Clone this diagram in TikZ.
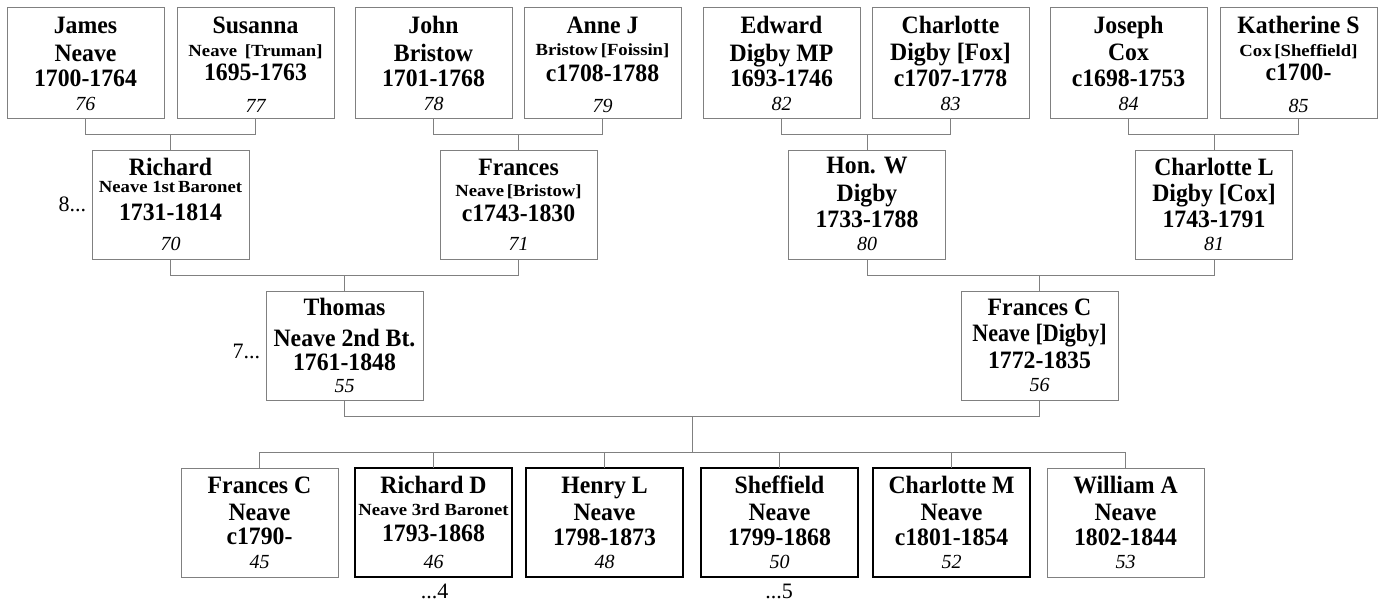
\documentclass[tikz,border=0pt]{standalone}
\usepackage{fontspec}
\usepackage{graphicx}
\usetikzlibrary{calc}
\setmainfont{Liberation Serif}
\newfontfamily\bigfam[FakeStretch=0.95]{Liberation Serif}
\newfontfamily\smallfam[FakeStretch=1.1]{Liberation Serif}
\definecolor{linegrey}{RGB}{128,128,128}
\newcommand\tB[1]{{\bigfam\bfseries\fontsize{25}{25}\selectfont #1}}
\newcommand\tS[1]{{\smallfam\bfseries\fontsize{17}{17}\selectfont #1}}
\newcommand\tN[1]{{\itshape\fontsize{20}{20}\selectfont #1}}
\newdimen\curb
\newdimen\bw \bw=157pt
\newcommand\pl[2]{\vskip\dimexpr#1pt-\curb\relax\curb=#1pt\relax\hbox to\bw{\hss\smash{#2}\hss}}
\newcommand\pbox[2][109]{\vbox to #1pt{\offinterlineskip\curb=0pt\relax #2\vfil}}
\tikzset{
  person/.style={draw=linegrey, line width=1pt, fill=white, inner sep=0pt, outer sep=0pt, anchor=north west},
  thickp/.style={person, draw=black, line width=2pt},
  conn/.style={draw=linegrey, line width=1pt},
  sidelabel/.style={inner sep=0pt, outer sep=0pt, font=\fontsize{22}{22}\selectfont}
}
\begin{document}
\begin{tikzpicture}[x=1pt,y=-1pt]
\fill[white] (0,0) rectangle (1382,602);
\useasboundingbox (0,0) rectangle (1382,602);

% ---------- top row ----------
\node[person] (james) at (7,8) {\pbox[110]{\pl{25.3}{\tB{James}}\pl{53}{\tB{Neave}}\pl{78.8}{\tB{1700-1764}}\pl{102.8}{\tN{76}}}};
\node[person] (susanna) at (177,8) {\pbox[110]{\pl{25.3}{\tB{Susanna}}\pl{48.7}{\tS{Neave\hspace{0.45em}[Truman]}}\pl{72.5}{\tB{1695-1763}}\pl{104.5}{\tN{77}}}};
\node[person] (john) at (355,8) {\pbox[110]{\pl{25.3}{\tB{John}}\pl{53}{\tB{Bristow}}\pl{78.8}{\tB{1701-1768}}\pl{102.8}{\tN{78}}}};
\node[person] (anne) at (524,8) {\pbox[110]{\pl{25.3}{\tB{Anne J}}\pl{47.5}{\tS{Bristow\,[Foissin]}}\pl{73.5}{\tB{c1708-1788}}\pl{104.5}{\tN{79}}}};
\node[person] (edward) at (703,8) {\pbox[110]{\pl{25.3}{\tB{Edward}}\pl{53}{\tB{Digby MP}}\pl{78.8}{\tB{1693-1746}}\pl{102.5}{\tN{82}}}};
\node[person] (charlotte) at (872,8) {\pbox[110]{\pl{25.3}{\tB{Charlotte}}\pl{52.5}{\tB{Digby [Fox]}}\pl{78}{\tB{c1707-1778}}\pl{102.5}{\tN{83}}}};
\node[person] (joseph) at (1050,8) {\pbox[110]{\pl{25.3}{\tB{Joseph}}\pl{52.5}{\tB{Cox}}\pl{78.8}{\tB{c1698-1753}}\pl{102.5}{\tN{84}}}};
\node[person] (katherine) at (1220,8) {\pbox[110]{\pl{25.3}{\tB{Katherine S}}\pl{48}{\tS{Cox\,[Sheffield]}}\pl{72.5}{\tB{c1700-}}\pl{104.5}{\tN{85}}}};

% ---------- second row ----------
\node[person] (richard) at (92,150) {\pbox{\pl{25}{\tB{Richard}}\pl{42.7}{\tS{Neave 1st\,Baronet}}\pl{70.7}{\tB{1731-1814}}\pl{100.7}{\tN{70}}}};
\node[person] (frances) at (440,150) {\pbox{\pl{25}{\tB{Frances}}\pl{46.7}{\tS{Neave\,[Bristow]}}\pl{71.7}{\tB{c1743-1830}}\pl{100.3}{\tN{71}}}};
\node[person] (honw) at (788.5,150) {\pbox{\pl{23.5}{\tB{Hon. W}}\pl{51}{\tB{Digby}}\pl{77.7}{\tB{1733-1788}}\pl{100.7}{\tN{80}}}};
\node[person] (charlottel) at (1135.5,150) {\pbox{\pl{25}{\tB{Charlotte L}}\pl{51.7}{\tB{Digby [Cox]}}\pl{77.3}{\tB{1743-1791}}\pl{100.3}{\tN{81}}}};

% ---------- third row ----------
\node[person] (thomas) at (266,291.7) {\pbox{\pl{23.3}{\tB{Thomas}}\pl{54.6}{\tB{Neave 2nd Bt.}}\pl{78.3}{\tB{1761-1848}}\pl{101}{\tN{55}}}};
\node[person] (francesc) at (961,291.7) {\pbox{\pl{23.3}{\tB{Frances C}}\pl{50}{\scalebox{0.93}[1]{\tB{Neave [Digby]}}}\pl{76.7}{\tB{1772-1835}}\pl{100}{\tN{56}}}};

% ---------- children ----------
\node[person] (fc) at (181,468) {\pbox{\pl{25}{\tB{Frances C}}\pl{52}{\tB{Neave}}\pl{76.3}{\tB{c1790-}}\pl{100}{\tN{45}}}};
\node[thickp] (rd) at (355,468) {\pbox{\pl{25}{\tB{Richard D}}\pl{47.3}{\tS{Neave 3rd Baronet}}\pl{73}{\tB{1793-1868}}\pl{100}{\tN{46}}}};
\node[thickp] (hl) at (526,468) {\pbox{\pl{25}{\tB{Henry L}}\pl{52}{\tB{Neave}}\pl{77}{\tB{1798-1873}}\pl{100}{\tN{48}}}};
\node[thickp] (sh) at (701,468) {\pbox{\pl{25}{\tB{Sheffield}}\pl{52}{\tB{Neave}}\pl{77}{\tB{1799-1868}}\pl{100}{\tN{50}}}};
\node[thickp] (cm) at (873,468) {\pbox{\pl{25}{\tB{Charlotte M}}\pl{52}{\tB{Neave}}\pl{77}{\tB{c1801-1854}}\pl{100}{\tN{52}}}};
\node[person] (wa) at (1047,468) {\pbox{\pl{25}{\tB{William A}}\pl{52}{\tB{Neave}}\pl{77}{\tB{1802-1844}}\pl{100}{\tN{53}}}};

% ---------- connectors ----------
\draw[conn] (james.south) -- ++(0,16) -| (susanna.south);
\draw[conn] (richard.north) -- ++(0,-16);
\draw[conn] (john.south) -- ++(0,16) -| (anne.south);
\draw[conn] (frances.north) -- ++(0,-16);
\draw[conn] (edward.south) -- ++(0,16) -| (charlotte.south);
\draw[conn] (honw.north) -- ++(0,-16);
\draw[conn] (joseph.south) -- ++(0,16) -| (katherine.south);
\draw[conn] (charlottel.north) -- ++(0,-16);

\draw[conn] (richard.south) -- ++(0,16) -| (frances.south);
\draw[conn] (thomas.north) -- ++(0,-16.7);
\draw[conn] (honw.south) -- ++(0,16) -| (charlottel.south);
\draw[conn] (francesc.north) -- ++(0,-16.7);

\draw[conn] (thomas.south) -- ++(0,15.3) -| (francesc.south);
\coordinate (pm) at ($(thomas.south)!0.5!(francesc.south)$);
\draw[conn] (pm) ++(0,15.3) -- ++(0,36);
\draw[conn] (fc.north) -- ++(0,-16) -| (wa.north);
\draw[conn] (rd.north) -- ++(0,-16);
\draw[conn] (hl.north) -- ++(0,-16);
\draw[conn] (sh.north) -- ++(0,-16);
\draw[conn] (cm.north) -- ++(0,-16);

% ---------- generation markers ----------
\node[sidelabel, anchor=base east] (g8) at (86,211.7) {8...};
\node[sidelabel, anchor=base east] (g7) at (260,358.3) {7...};
\node[sidelabel, anchor=base] (g4) at (434.5,598) {...4};
\node[sidelabel, anchor=base] (g5) at (779,598) {...5};
\end{tikzpicture}
\end{document}
